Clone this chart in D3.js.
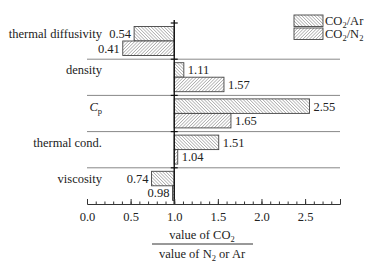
<!DOCTYPE html>
<html>
<head>
<meta charset="utf-8">
<script src="https://cdn.jsdelivr.net/npm/d3@7"></script>
<style>
  body { margin: 0; background: #fff; }
  text { font-family: "Liberation Serif", "Times New Roman", serif; fill: #222; }
</style>
</head>
<body>
<svg id="chart"></svg>
<script>
const categories = ["thermal diffusivity", "density", "Cp", "thermal cond.", "viscosity"];
const series = ["CO2/Ar", "CO2/N2"];
const ratioAr = [0.54, 1.11, 2.55, 1.51, 0.74];
const ratioN2 = [0.41, 1.57, 1.65, 1.04, 0.98];
const majorTicks = [0, 0.5, 1.0, 1.5, 2.0, 2.5];

const width = 372;
const height = 271;
const fs = 12.5;

const svg = d3.select("#chart").attr("width", width).attr("height", height);

// 斜线填充
const defs = svg.append("defs");
function hatch(id, angle) {
  const s = 2.3;
  const p = defs.append("pattern")
    .attr("id", id)
    .attr("patternUnits", "userSpaceOnUse")
    .attr("width", s)
    .attr("height", s)
    .attr("patternTransform", `rotate(${angle})`);
  p.append("rect").attr("width", s).attr("height", s).attr("fill", "#fff");
  p.append("line").attr("x1", 0).attr("y1", 0).attr("x2", 0).attr("y2", s)
    .attr("stroke", "#555").attr("stroke-width", 0.75);
}
hatch("hAr", -45);
hatch("hN2", 45);
const fills = { "CO2/Ar": "url(#hAr)", "CO2/N2": "url(#hN2)" };

const x = d3.scaleLinear().domain([0, 2.9]).range([87, 340]);
const y = d3.scaleBand().domain(categories).range([23, 204]);
const ySub = d3.scaleBand().domain(series).range([3.5, 32.5]);

// 分隔线
svg.append("g")
  .selectAll("line")
  .data(categories.slice(1))
  .join("line")
  .attr("x1", x(0))
  .attr("x2", x(2.9))
  .attr("y1", (d) => y(d))
  .attr("y2", (d) => y(d))
  .attr("stroke", "#888")
  .attr("stroke-width", 1);

const rows = [];
categories.forEach((c, i) => {
  rows.push({ cat: c, s: "CO2/Ar", v: ratioAr[i] });
  rows.push({ cat: c, s: "CO2/N2", v: ratioN2[i] });
});

// 柱子
svg.append("g")
  .selectAll("rect")
  .data(rows)
  .join("rect")
  .attr("x", (d) => Math.min(x(d.v), x(1)))
  .attr("y", (d) => y(d.cat) + ySub(d.s))
  .attr("width", (d) => Math.abs(x(d.v) - x(1)))
  .attr("height", ySub.bandwidth())
  .attr("fill", (d) => fills[d.s])
  .attr("stroke", "#444")
  .attr("stroke-width", 0.9);

// 数值标签
svg.append("g")
  .selectAll("text")
  .data(rows)
  .join("text")
  .attr("x", (d) => (d.v < 1 ? x(d.v) - 3 : x(d.v) + 4))
  .attr("y", (d) => y(d.cat) + ySub(d.s) + ySub.bandwidth() / 2)
  .attr("dy", "0.35em")
  .attr("text-anchor", (d) => (d.v < 1 ? "end" : "start"))
  .attr("font-size", fs)
  .text((d) => d.v.toFixed(2));

// 类别标签
const catLabels = svg.append("g")
  .selectAll("text")
  .data(categories)
  .join("text")
  .attr("x", 102)
  .attr("y", (d) => y(d) + ySub("CO2/Ar") + ySub.bandwidth() / 2)
  .attr("dy", "0.35em")
  .attr("text-anchor", "end")
  .attr("font-size", fs);
catLabels.each(function (d) {
  const t = d3.select(this);
  if (d === "Cp") {
    t.append("tspan").attr("font-style", "italic").text("C");
    t.append("tspan").attr("font-size", 8.5).attr("dy", 3).text("p");
  } else {
    t.text(d);
  }
});

// 1.0 竖线
svg.append("line")
  .attr("x1", x(1)).attr("x2", x(1))
  .attr("y1", 20).attr("y2", 204)
  .attr("stroke", "#111").attr("stroke-width", 1.4);
svg.append("g")
  .selectAll("line")
  .data(categories)
  .join("line")
  .attr("x1", x(1) - 3.5).attr("x2", x(1) + 3.5)
  .attr("y1", (d) => y(d)).attr("y2", (d) => y(d))
  .attr("stroke", "#111").attr("stroke-width", 1.2);

// x 轴
const xAxis = svg.append("g")
  .attr("transform", "translate(0,204)")
  .call(d3.axisBottom(x).tickValues(majorTicks).tickSize(-5).tickPadding(8).tickFormat(d3.format(".1f")));
xAxis.select(".domain").attr("stroke", "#333");
xAxis.selectAll(".tick line").attr("stroke", "#333");
xAxis.selectAll("text").attr("font-size", fs).attr("font-family", "Liberation Serif").attr("fill", "#222");

svg.append("g")
  .attr("transform", "translate(0,204)")
  .call(d3.axisBottom(x).tickValues(d3.range(0, 2.95, 0.1)).tickSize(-2.5).tickFormat(""))
  .call((g) => g.select(".domain").remove())
  .selectAll(".tick line").attr("stroke", "#333");

// 轴标题 (分数)
const num = svg.append("text").attr("x", 202).attr("y", 239).attr("text-anchor", "middle").attr("font-size", fs);
num.append("tspan").text("value of CO");
num.append("tspan").attr("font-size", 8.5).attr("dy", 3).text("2");
svg.append("line").attr("x1", 152).attr("x2", 253).attr("y1", 244).attr("y2", 244)
  .attr("stroke", "#333").attr("stroke-width", 1);
const den = svg.append("text").attr("x", 202).attr("y", 258).attr("text-anchor", "middle").attr("font-size", fs);
den.append("tspan").text("value of N");
den.append("tspan").attr("font-size", 8.5).attr("dy", 3).text("2");
den.append("tspan").attr("dy", -3).text(" or Ar");

// 图例
const legend = svg.append("g")
  .selectAll("g")
  .data(series)
  .join("g")
  .attr("transform", (d, i) => `translate(294,${15 + i * 13})`);
legend.append("rect")
  .attr("width", 29).attr("height", 11.5)
  .attr("fill", (d) => fills[d])
  .attr("stroke", "#444").attr("stroke-width", 0.9);
legend.append("text")
  .attr("x", 31).attr("y", 6).attr("dy", "0.35em")
  .attr("font-size", fs)
  .each(function (d) {
    const t = d3.select(this);
    t.append("tspan").text("CO");
    t.append("tspan").attr("font-size", 8.5).attr("dy", 3).text("2");
    if (d === "CO2/Ar") {
      t.append("tspan").attr("dy", -3).text("/Ar");
    } else {
      t.append("tspan").attr("dy", -3).text("/N");
      t.append("tspan").attr("font-size", 8.5).attr("dy", 3).text("2");
    }
  });
</script>
</body>
</html>
